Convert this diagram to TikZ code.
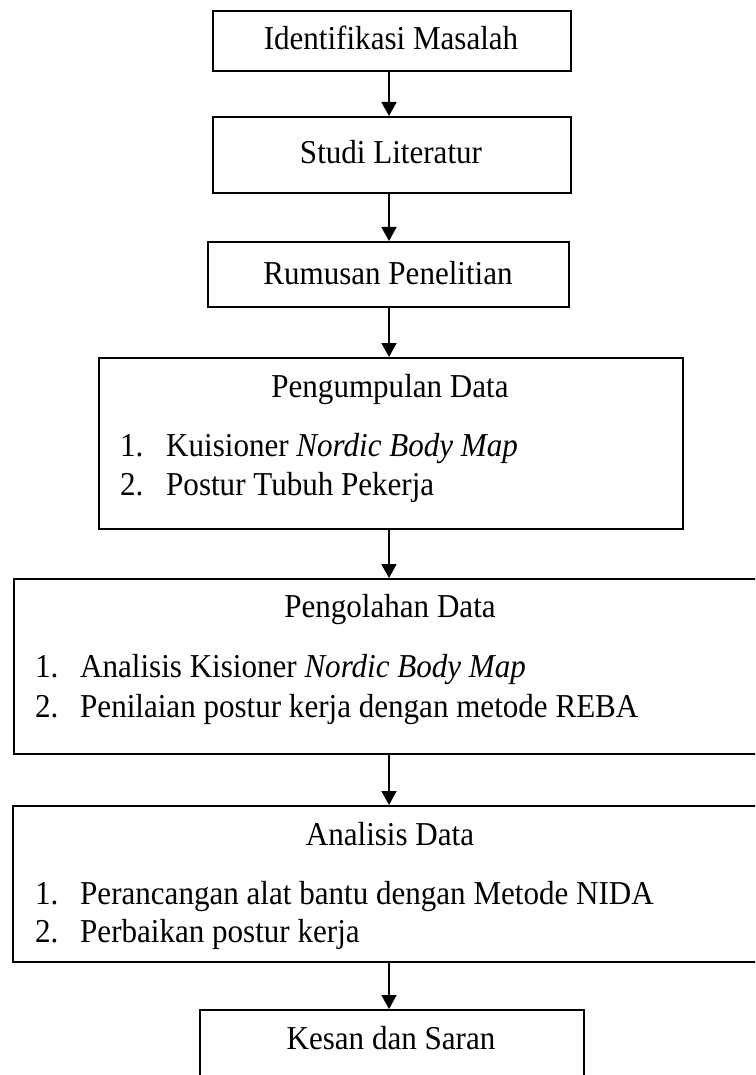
\documentclass[tikz,border=0pt]{standalone}
\usepackage{fontspec}
\setmainfont{Liberation Serif}[FakeStretch=0.93]
\usetikzlibrary{arrows.meta}
\begin{document}
\begin{tikzpicture}[x=1pt,y=-1pt,
  box/.style={draw, line width=1.9pt, rectangle, inner sep=0pt, anchor=north west},
  txt/.style={inner sep=0pt, anchor=base, font=\fontsize{33.4}{38}\selectfont},
  itm/.style={inner sep=0pt, anchor=base west, font=\fontsize{33.4}{38}\selectfont},
  flow/.style={line width=1.7pt, -{Triangle[length=14pt,width=15pt]}}]
\useasboundingbox (0,0) rectangle (755,1075);
\clip (0,0) rectangle (755,1075);
\coordinate (axis) at (389,0);
% boxes
\node[box, minimum width=358pt, minimum height=60pt] (b1) at (212,10) {};
\node[box, minimum width=358pt, minimum height=76pt] (b2) at (212,116) {};
\node[box, minimum width=361pt, minimum height=65pt] (b3) at (207,241) {};
\node[box, minimum width=584pt, minimum height=171pt] (b4) at (98,357) {};
\node[box, minimum width=760pt, minimum height=175pt] (b5) at (13,578) {};
\node[box, minimum width=760pt, minimum height=156pt] (b6) at (12,805) {};
\node[box, minimum width=384pt, minimum height=100pt] (b7) at (199,1009) {};
% texts
\node[txt] (t1) at (391,50) {Identifikasi Masalah};
\node[txt] (t2) at (391,164) {Studi Literatur};
\node[txt] (t3) at (388,284) {Rumusan Penelitian};
\node[txt] (t4) at (390,397) {Pengumpulan Data};
\node[itm] (n41) at (120,456) {1.};
\node[itm] (i41) at (166,456) {Kuisioner \textit{Nordic Body Map}};
\node[itm] (n42) at (120,495) {2.};
\node[itm] (i42) at (166,495) {Postur Tubuh Pekerja};
\node[txt] (t5) at (390,617) {Pengolahan Data};
\node[itm] (n51) at (35,677) {1.};
\node[itm] (i51) at (80,677) {Analisis Kisioner \textit{Nordic Body Map}};
\node[itm] (n52) at (35,717) {2.};
\node[itm] (i52) at (80,717) {Penilaian postur kerja dengan metode REBA};
\node[txt] (t6) at (390,845) {Analisis Data};
\node[itm] (n61) at (35,904) {1.};
\node[itm] (i61) at (80,904) {Perancangan alat bantu dengan Metode NIDA};
\node[itm] (n62) at (35,942) {2.};
\node[itm] (i62) at (80,942) {Perbaikan postur kerja};
\node[txt] (t7) at (391,1049) {Kesan dan Saran};
% arrows
\draw[flow] (b1.south -| axis) -- (b2.north -| axis);
\draw[flow] (b2.south -| axis) -- (b3.north -| axis);
\draw[flow] (b3.south -| axis) -- (b4.north -| axis);
\draw[flow] (b4.south -| axis) -- (b5.north -| axis);
\draw[flow] (b5.south -| axis) -- (b6.north -| axis);
\draw[flow] (b6.south -| axis) -- (b7.north -| axis);
\end{tikzpicture}
\end{document}
